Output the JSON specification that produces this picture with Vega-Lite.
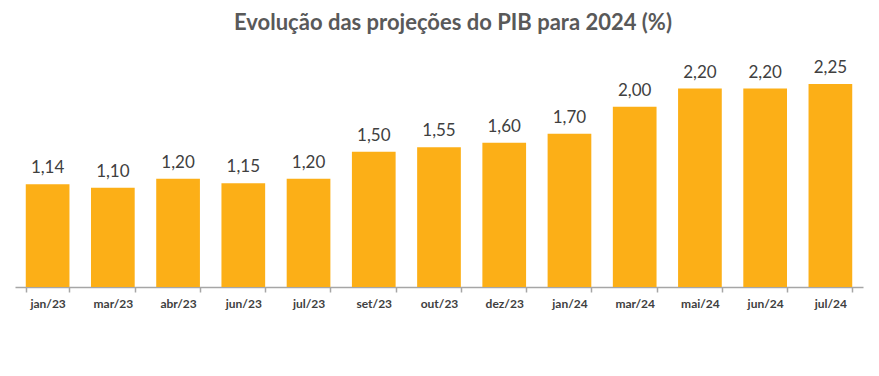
{
  "$schema": "https://vega.github.io/schema/vega-lite/v6.json",
  "width": 848,
  "height": 227,
  "autosize": "none",
  "padding": {"left": 15, "top": 60, "right": 16, "bottom": 89},
  "background": "white",
  "title": {
    "text": "Evolução das projeções do PIB para 2024 (%)",
    "font": "Lato",
    "fontSize": 22,
    "fontWeight": "bold",
    "color": "#595959",
    "anchor": "middle",
    "offset": 24,
    "dx": 14
  },
  "data": {
    "values": [
      {"mes": "jan/23", "valor": 1.14},
      {"mes": "mar/23", "valor": 1.10},
      {"mes": "abr/23", "valor": 1.20},
      {"mes": "jun/23", "valor": 1.15},
      {"mes": "jul/23", "valor": 1.20},
      {"mes": "set/23", "valor": 1.50},
      {"mes": "out/23", "valor": 1.55},
      {"mes": "dez/23", "valor": 1.60},
      {"mes": "jan/24", "valor": 1.70},
      {"mes": "mar/24", "valor": 2.00},
      {"mes": "mai/24", "valor": 2.20},
      {"mes": "jun/24", "valor": 2.20},
      {"mes": "jul/24", "valor": 2.25}
    ]
  },
  "encoding": {
    "x": {
      "field": "mes",
      "type": "nominal",
      "sort": null,
      "scale": {"paddingInner": 0.33, "paddingOuter": 0.165},
      "axis": {
        "title": null,
        "labelAngle": 0,
        "labelFont": "Lato",
        "labelFontSize": 12,
        "labelFontWeight": "bold",
        "labelColor": "#404040",
        "labelPadding": 6,
        "domainColor": "#A6A6A6",
        "domainWidth": 1.5,
        "tickColor": "#A6A6A6",
        "tickWidth": 1.5,
        "tickSize": 5,
        "tickBand": "extent"
      }
    },
    "y": {
      "field": "valor",
      "type": "quantitative",
      "scale": {"domain": [0, 2.517], "nice": false},
      "axis": null
    }
  },
  "layer": [
    {"mark": {"type": "bar", "color": "#FCAF17"}},
    {
      "mark": {"type": "text", "baseline": "bottom", "dy": -7, "font": "Lato", "fontSize": 17, "color": "#404040"},
      "encoding": {"text": {"field": "valor", "type": "quantitative", "format": ".2f"}}
    }
  ],
  "config": {
    "view": {"stroke": null},
    "locale": {"number": {"decimal": ",", "thousands": ".", "grouping": [3], "currency": ["R$", ""]}}
  }
}
